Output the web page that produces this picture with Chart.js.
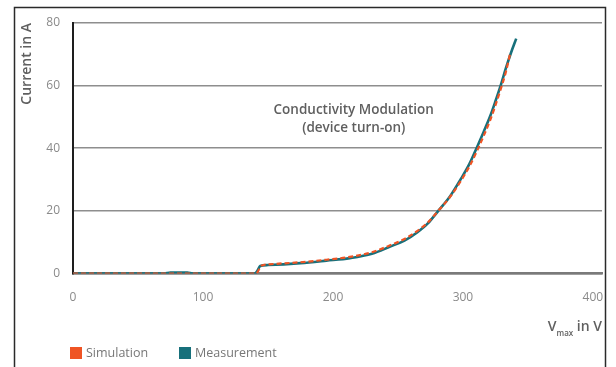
<!DOCTYPE html>
<html>
<head>
<meta charset="utf-8">
<script src="https://cdn.jsdelivr.net/npm/chart.js@4/dist/chart.umd.min.js"></script>
<style>
html,body{margin:0;padding:0;background:#fff;}
#wrap{width:616px;height:367px;position:relative;}
</style>
</head>
<body>
<div id="wrap"><canvas id="c" width="616" height="367"></canvas></div>
<script>
// ---- data ----
const measV = [0, 70, 75, 88, 92, 140, 142, 144, 150, 175, 195, 213, 230, 244, 255, 265, 273, 281, 290, 298, 305, 311, 316, 321, 325, 329, 333, 337, 341];
const measA = [0, 0, 0.3, 0.3, 0, 0, 1.0, 2.4, 2.7, 3.3, 4.1, 4.9, 6.3, 8.6, 10.5, 13.2, 16, 20, 24.6, 29.9, 35, 40.5, 45.3, 50.3, 55, 60, 65.5, 70.5, 75];
const simV = [0, 141, 143, 145, 150, 175, 195, 213, 230, 244, 255, 265, 273, 281, 290, 298, 305, 311, 316, 321, 325, 329, 333, 336.5];
const simA = [0, 0, 1.2, 2.5, 2.9, 3.6, 4.4, 5.3, 6.8, 9.0, 11, 13.6, 16.3, 20, 24.4, 29.3, 34.2, 39.3, 44, 49, 53.7, 58.8, 64.3, 70.6];
const xTicks = [0, 100, 200, 300, 400];
const yTicks = [0, 20, 40, 60, 80];
const seriesNames = ['Simulation', 'Measurement'];
const annotationLines = ['Conductivity Modulation', '(device turn-on)'];
const yTitle = 'Current in A';

const ORANGE = '#ef5424';
const TEAL = '#17707b';
const FONT = '"Open Sans", "Noto Sans", sans-serif';

const toPts = (xs, ys) => xs.map((x, i) => ({x: x, y: ys[i]}));

const decor = {
  id: 'decor',
  beforeDraw(chart) {
    const ctx = chart.ctx;
    ctx.save();
    ctx.strokeStyle = '#2a2a2a';
    ctx.lineWidth = 1.5;
    ctx.beginPath();
    ctx.moveTo(14.5, 400);
    ctx.lineTo(14.5, 7.5);
    ctx.lineTo(605.5, 7.5);
    ctx.lineTo(605.5, 400);
    ctx.stroke();
    ctx.restore();
  },
  afterDraw(chart) {
    const ctx = chart.ctx;
    const xs = chart.scales.x, ys = chart.scales.y;
    ctx.save();
    // annotation
    ctx.fillStyle = '#5f5f5f';
    ctx.font = '600 13.5px ' + FONT;
    ctx.textAlign = 'center';
    ctx.textBaseline = 'middle';
    const ax = xs.getPixelForValue(216);
    ctx.fillText(annotationLines[0], ax, ys.getPixelForValue(52.2));
    ctx.fillText(annotationLines[1], ax, ys.getPixelForValue(46.4));
    // x axis title with subscript
    ctx.textBaseline = 'alphabetic';
    ctx.textAlign = 'left';
    ctx.font = '600 14px ' + FONT;
    const rest = ' in V';
    const wRest = ctx.measureText(rest).width;
    const wV = ctx.measureText('V').width;
    ctx.font = '600 8px ' + FONT;
    const wSub = ctx.measureText('max').width;
    const right = 602;
    let x0 = right - wRest - wSub - wV;
    ctx.font = '600 14px ' + FONT;
    ctx.fillStyle = '#606060';
    ctx.fillText('V', x0, 331);
    ctx.font = '600 8px ' + FONT;
    ctx.fillText('max', x0 + wV, 336);
    ctx.font = '600 14px ' + FONT;
    ctx.fillText(rest, x0 + wV + wSub, 331);
    // legend
    const items = chart.data.datasets.map(d => ({label: d.label, color: d.borderColor}));
    const pos = [70, 179];
    ctx.font = '12.5px ' + FONT;
    ctx.textBaseline = 'middle';
    items.forEach((it, i) => {
      ctx.fillStyle = it.color;
      ctx.fillRect(pos[i], 347, 12, 12);
      ctx.fillStyle = '#777';
      ctx.fillText(it.label, pos[i] + 16, 353);
    });
    ctx.restore();
  }
};

new Chart(document.getElementById('c'), {
  type: 'line',
  data: {
    datasets: [
      {
        label: seriesNames[0],
        data: toPts(simV, simA),
        borderColor: ORANGE,
        backgroundColor: ORANGE,
        borderWidth: 2.2,
        borderDash: [5, 3],
        pointRadius: 0,
        cubicInterpolationMode: 'monotone',
        order: 0
      },
      {
        label: seriesNames[1],
        data: toPts(measV, measA),
        borderColor: TEAL,
        backgroundColor: TEAL,
        borderWidth: 2.6,
        pointRadius: 0,
        cubicInterpolationMode: 'monotone',
        order: 1
      }
    ]
  },
  options: {
    responsive: false,
    animation: false,
    devicePixelRatio: 1,
    layout: {padding: {left: 0, top: 23, right: 14, bottom: 0}},
    plugins: {legend: {display: false}, tooltip: {enabled: false}},
    scales: {
      x: {
        type: 'linear',
        min: 0,
        max: 407,
        afterBuildTicks(s) { s.ticks = xTicks.map(v => ({value: v})); },
        afterFit(s) { s.height = 93.5; s.paddingRight = 0; },
        grid: {display: false, drawTicks: false},
        border: {display: true, color: '#7a7a7a', width: 2.5},
        ticks: {
          padding: 17,
          color: '#8a8a8a',
          font: {family: FONT, size: 12},
          maxRotation: 0
        }
      },
      y: {
        min: 0,
        max: 80,
        afterBuildTicks(s) { s.ticks = yTicks.map(v => ({value: v})); },
        afterFit(s) { s.width = 73; },
        grid: {color: '#8e8e8e', lineWidth: 1.6, drawTicks: false},
        border: {display: true, color: '#1e1e1e', width: 2},
        ticks: {
          padding: 13,
          color: '#8a8a8a',
          font: {family: FONT, size: 12}
        },
        title: {
          display: true,
          text: yTitle,
          align: 'end',
          color: '#5f5f5f',
          font: {family: FONT, size: 14, weight: '600'},
          padding: {top: 19, bottom: 0}
        }
      }
    }
  },
  plugins: [decor]
});
</script>
</body>
</html>
